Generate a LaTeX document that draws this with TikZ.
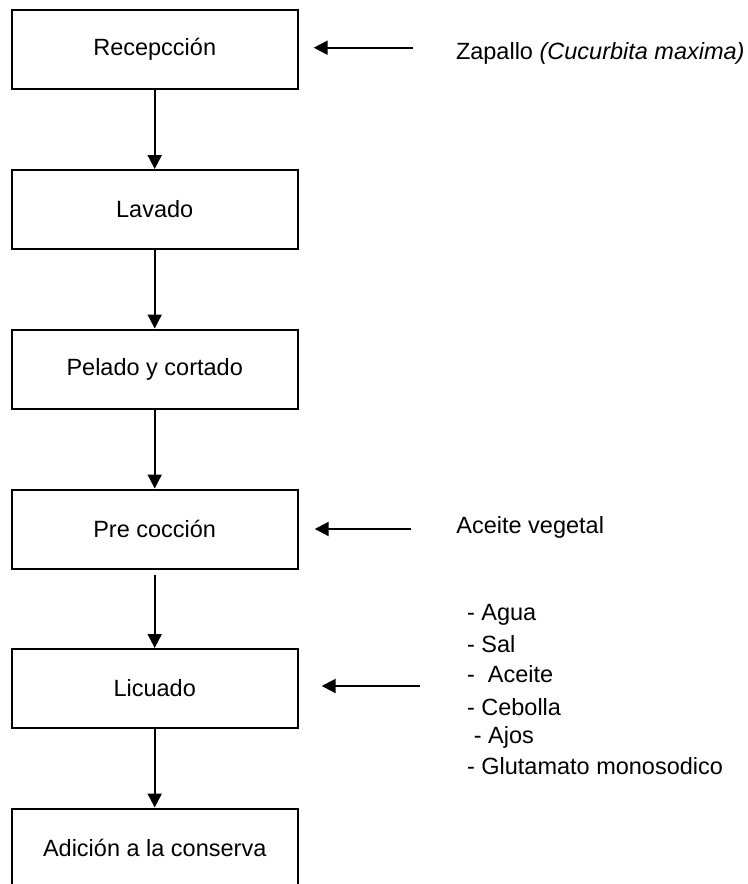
\documentclass[tikz,border=0pt]{standalone}
\usepackage{fontspec}
\setmainfont{Liberation Sans}
\usetikzlibrary{arrows.meta}

\begin{document}
\begin{tikzpicture}[x=0.5pt,y=-0.5pt,
  paso/.style={draw,line width=1pt,minimum width=143pt,minimum height=39.5pt,inner sep=0pt,font=\fontsize{11.75}{14}\selectfont},
  texto/.style={anchor=west,inner sep=0pt,font=\fontsize{11.75}{14}\selectfont},
  flecha/.style={-{Triangle[length=7pt,width=7pt]},line width=1pt}]
\useasboundingbox (0,0) rectangle (748,884);
\clip (0,0) rectangle (748,884);

% Process steps
\node[paso] (rec) at (154.7,49.5) {Recepcción};
\node[paso] (lav) at (154.7,209.5) {Lavado};
\node[paso] (pel) at (154.7,369) {Pelado y cortado};
\node[paso] (pre) at (154.7,529) {Pre cocción};
\node[paso] (lic) at (154.7,688.5) {Licuado};
\node[paso] (adi) at (154.7,848) {Adición a la conserva};

% Main flow
\draw[flecha] (rec) -- (lav);
\draw[flecha] (lav) -- (pel);
\draw[flecha] (pel) -- (pre);
\draw[flecha] ([yshift=-2.5pt]pre.south) -- (lic);
\draw[flecha] (lic) -- (adi);

% Inputs
\node[texto] (zap) at (455.6,53) {Zapallo \textit{(Cucurbita maxima)}};
\node[texto] (ace) at (456,527) {Aceite vegetal};
\node[texto] (agu) at (466.6,615) {- Agua};
\node[texto] (sal) at (466.6,644) {- Sal};
\node[texto] (acl) at (466.6,674) {-\ \ Aceite};
\node[texto] (ceb) at (466.6,707) {- Cebolla};
\node[texto] (ajo) at (473.5,737) {- Ajos};
\node[texto] (glu) at (466.6,766) {- Glutamato monosodico};

\coordinate (inZap) at (412.7,47.7);
\coordinate (inAce) at (411,529);
\coordinate (inLic) at (420,686);
\draw[flecha,shorten >=7.5pt] (inZap) -- (rec.east |- inZap);
\draw[flecha,shorten >=8pt] (inAce) -- (pre.east |- inAce);
\draw[flecha,shorten >=11.5pt] (inLic) -- (lic.east |- inLic);
\end{tikzpicture}
\end{document}
